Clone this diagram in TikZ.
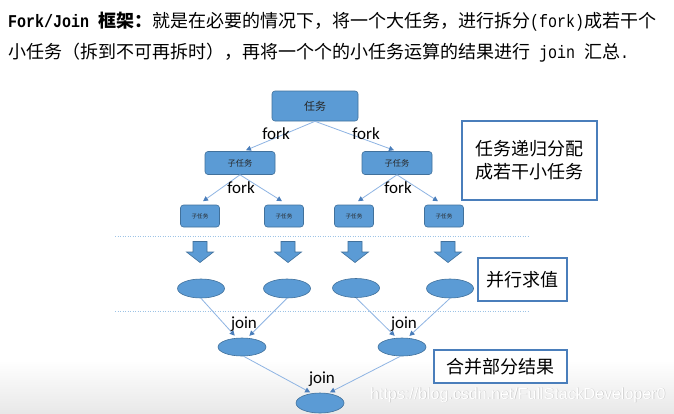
\documentclass[tikz,border=0pt]{standalone}
\usepackage{fontspec}
\usetikzlibrary{arrows.meta,shapes.geometric}
\newfontfamily\cjk{Noto Sans CJK SC}
\newfontfamily\mono[FakeStretch=0.8333]{Liberation Mono}
\newfontfamily\lbl{Carlito}
\newfontfamily\wm{Liberation Sans}
\definecolor{boxfill}{HTML}{5B9BD5}
\definecolor{boxdraw}{HTML}{41719C}
\definecolor{linecol}{HTML}{8EB4E3}
\definecolor{tipcol}{HTML}{4A7EBB}
\definecolor{dotcol}{HTML}{9DC3E6}
\definecolor{tbdraw}{HTML}{4A7EBB}
\tikzset{
  task/.style={draw=boxdraw, fill=boxfill, rounded corners=3pt, line width=0.6pt, inner sep=0pt, text=black!85},
  rootbox/.style={task, minimum width=86pt, minimum height=30pt, font=\cjk\fontsize{11}{13}\selectfont},
  childbox/.style={task, minimum width=70pt, minimum height=23pt, font=\cjk\fontsize{8.3}{10}\selectfont},
  leafbox/.style={task, minimum width=39pt, minimum height=22pt, font=\cjk\fontsize{5.6}{7}\selectfont},
  res/.style={ellipse, draw=boxdraw, fill=boxfill, line width=0.6pt, inner sep=0pt, minimum width=47pt, minimum height=19pt},
  conn/.style={draw=linecol, line width=0.8pt, -{Triangle[length=5pt,width=5pt,color=tipcol]}},
  lab/.style={font=\lbl\fontsize{17}{20}\selectfont, inner sep=0pt, text=black},
  tbox/.style={draw=tbdraw, line width=1.4pt, fill=white, font=\cjk\fontsize{18}{23}\selectfont, align=center, inner sep=0pt, text=black},
  dotline/.style={draw=dotcol, line width=1pt, dash pattern=on 1pt off 1.5pt},
  barrow/.style={fill=boxfill, draw=boxdraw, line width=0.6pt, line join=miter},
}
\begin{document}
\begin{tikzpicture}[x=1pt,y=-1pt]
\useasboundingbox (0,0) rectangle (674,413);
\fill[white] (0,0) rectangle (674,413);
\shade[top color=white, bottom color=black!9] (0,360) rectangle (674,413);

% title
\node[anchor=west, inner sep=0pt] (t1) at (8,22) {\fontsize{18}{22}\selectfont{\bfseries\mono Fork/Join\ }{\cjk\bfseries 框架：}{\cjk 就是在必要的情况下，将一个大任务，进行拆分}{\mono (fork)}{\cjk 成若干个}};
\node[anchor=west, inner sep=0pt] (t2) at (8,53) {\fontsize{18}{22}\selectfont{\cjk 小任务（拆到不可再拆时），再将一个个的小任务运算的结果进行}{\mono\ join\ }{\cjk 汇总}{\mono .}};

% watermark
\node[anchor=west, inner sep=0pt, text=black!22] (wms) at (370.6,395.6) {\wm\fontsize{16}{18}\selectfont https://blog.csdn.net/FullStackDeveloper0};
\node[anchor=west, inner sep=0pt, text=white] (wm) at (370,395) {\wm\fontsize{16}{18}\selectfont https://blog.csdn.net/FullStackDeveloper0};

% tree
\node[rootbox] (root) at (315,106) {任务};
\node[childbox] (c1) at (240,163) {子任务};
\node[childbox] (c2) at (397,163) {子任务};
\node[leafbox] (l1) at (200,216) {子任务};
\node[leafbox] (l2) at (284,216) {子任务};
\node[leafbox] (l3) at (354,216) {子任务};
\node[leafbox] (l4) at (444,216) {子任务};

\draw[conn] (root.south) -- ([xshift=6pt,yshift=1pt]c1.north);
\draw[conn] (root.south) -- ([xshift=-3pt,yshift=1pt]c2.north);
\draw[conn] (c1.south) -- ([xshift=3pt,yshift=3.5pt]l1.north);
\draw[conn] (c1.south) -- ([xshift=-2pt,yshift=3.5pt]l2.north);
\draw[conn] (c2.south) -- ([xshift=4pt,yshift=3.5pt]l3.north);
\draw[conn] (c2.south) -- ([xshift=-6pt,yshift=3.5pt]l4.north);

\node[lab] (f1) at (276,134) {fork};
\node[lab] (f2) at (366,134) {fork};
\node[lab] (f3) at (241,188) {fork};
\node[lab] (f4) at (398,188) {fork};

% explanation boxes
\node[tbox, minimum width=135pt, minimum height=79pt] (n1) at (529.5,160.5) {任务递归分配\\成若干小任务};
\node[tbox, minimum width=89pt, minimum height=43pt] (n2) at (522.5,279.5) {并行求值};
\node[tbox, minimum width=133pt, minimum height=33pt] (n3) at (500.5,366.5) {合并部分结果};

% dotted separators
\draw[dotline] (115,236) -- (530,236);
\draw[dotline] (115,311) -- (528,311);

% block arrows
\foreach \x in {200,288,355,448}
  \filldraw[barrow] (\x-7,241.5) -- (\x+7,241.5) -- (\x+7,252) -- (\x+13.5,252) -- (\x,262.5) -- (\x-13.5,252) -- (\x-7,252) -- cycle;

% results
\node[res] (e1) at (201,288.5) {};
\node[res] (e2) at (287,288.5) {};
\node[res] (e3) at (356,288) {};
\node[res] (e4) at (450,288.5) {};
\node[res, minimum height=18pt, minimum width=48pt] (j1) at (242,347) {};
\node[res, minimum height=18pt, minimum width=48pt] (j2) at (402,347) {};
\node[res, minimum width=48pt, minimum height=20pt] (b) at (320,403) {};

\draw[conn, shorten >=3pt] (e1.south) -- (j1.120);
\draw[conn, shorten >=3pt] (e2.south) -- (j1.60);
\draw[conn, shorten >=3pt] (e3.south) -- (j2.120);
\draw[conn, shorten >=3pt] (e4.south) -- (j2.60);
\draw[conn, shorten >=2pt] (j1.-80) -- (b.130);
\draw[conn, shorten >=2pt] (j2.-100) -- (b.50);

\node[lab] (jl1) at (244,324) {join};
\node[lab] (jl2) at (404,324) {join};
\node[lab] (jl3) at (322,379) {join};
\end{tikzpicture}
\end{document}
